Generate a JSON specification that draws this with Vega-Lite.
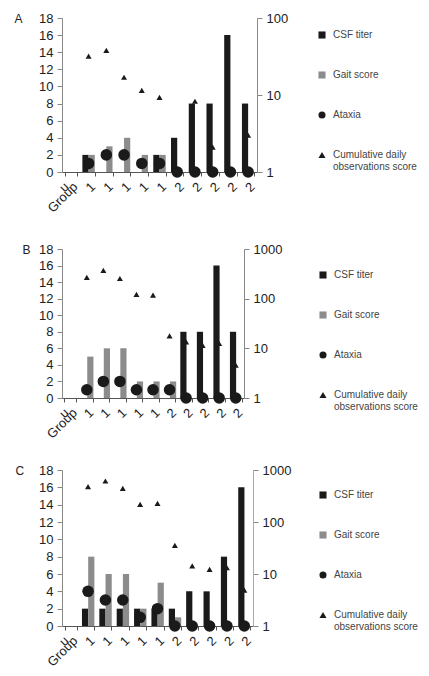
{
  "$schema": "https://vega.github.io/schema/vega-lite/v6.json",
  "padding": {"left": 14, "top": 12, "right": 5, "bottom": 5},
  "background": "white",
  "datasets": {
    "A": [
      {"subject": "1a", "series": "CSF titer", "value": 2},
      {"subject": "1b", "series": "CSF titer", "value": 0},
      {"subject": "1c", "series": "CSF titer", "value": 0},
      {"subject": "1d", "series": "CSF titer", "value": 0},
      {"subject": "1e", "series": "CSF titer", "value": 2},
      {"subject": "2a", "series": "CSF titer", "value": 4},
      {"subject": "2b", "series": "CSF titer", "value": 8},
      {"subject": "2c", "series": "CSF titer", "value": 8},
      {"subject": "2d", "series": "CSF titer", "value": 16},
      {"subject": "2e", "series": "CSF titer", "value": 8},
      {"subject": "1a", "series": "Gait score", "value": 2},
      {"subject": "1b", "series": "Gait score", "value": 3},
      {"subject": "1c", "series": "Gait score", "value": 4},
      {"subject": "1d", "series": "Gait score", "value": 2},
      {"subject": "1e", "series": "Gait score", "value": 2},
      {"subject": "2a", "series": "Gait score", "value": 0},
      {"subject": "2b", "series": "Gait score", "value": 0},
      {"subject": "2c", "series": "Gait score", "value": 0},
      {"subject": "2d", "series": "Gait score", "value": 0},
      {"subject": "2e", "series": "Gait score", "value": 0},
      {"subject": "1a", "series": "Ataxia", "value": 1},
      {"subject": "1b", "series": "Ataxia", "value": 2},
      {"subject": "1c", "series": "Ataxia", "value": 2},
      {"subject": "1d", "series": "Ataxia", "value": 1},
      {"subject": "1e", "series": "Ataxia", "value": 1},
      {"subject": "2a", "series": "Ataxia", "value": 0},
      {"subject": "2b", "series": "Ataxia", "value": 0},
      {"subject": "2c", "series": "Ataxia", "value": 0},
      {"subject": "2d", "series": "Ataxia", "value": 0},
      {"subject": "2e", "series": "Ataxia", "value": 0},
      {"subject": "1a", "series": "Cumulative daily observations score", "value": 32},
      {"subject": "1b", "series": "Cumulative daily observations score", "value": 38},
      {"subject": "1c", "series": "Cumulative daily observations score", "value": 17},
      {"subject": "1d", "series": "Cumulative daily observations score", "value": 11.5},
      {"subject": "1e", "series": "Cumulative daily observations score", "value": 9.3},
      {"subject": "2b", "series": "Cumulative daily observations score", "value": 8.3},
      {"subject": "2c", "series": "Cumulative daily observations score", "value": 2.1},
      {"subject": "2e", "series": "Cumulative daily observations score", "value": 3.0}
    ],
    "B": [
      {"subject": "1a", "series": "CSF titer", "value": 0},
      {"subject": "1b", "series": "CSF titer", "value": 0},
      {"subject": "1c", "series": "CSF titer", "value": 0},
      {"subject": "1d", "series": "CSF titer", "value": 0},
      {"subject": "1e", "series": "CSF titer", "value": 0},
      {"subject": "2a", "series": "CSF titer", "value": 0},
      {"subject": "2b", "series": "CSF titer", "value": 8},
      {"subject": "2c", "series": "CSF titer", "value": 8},
      {"subject": "2d", "series": "CSF titer", "value": 16},
      {"subject": "2e", "series": "CSF titer", "value": 8},
      {"subject": "1a", "series": "Gait score", "value": 5},
      {"subject": "1b", "series": "Gait score", "value": 6},
      {"subject": "1c", "series": "Gait score", "value": 6},
      {"subject": "1d", "series": "Gait score", "value": 2},
      {"subject": "1e", "series": "Gait score", "value": 2},
      {"subject": "2a", "series": "Gait score", "value": 2},
      {"subject": "2b", "series": "Gait score", "value": 0},
      {"subject": "2c", "series": "Gait score", "value": 0},
      {"subject": "2d", "series": "Gait score", "value": 0},
      {"subject": "2e", "series": "Gait score", "value": 0},
      {"subject": "1a", "series": "Ataxia", "value": 1},
      {"subject": "1b", "series": "Ataxia", "value": 2},
      {"subject": "1c", "series": "Ataxia", "value": 2},
      {"subject": "1d", "series": "Ataxia", "value": 1},
      {"subject": "1e", "series": "Ataxia", "value": 1},
      {"subject": "2a", "series": "Ataxia", "value": 1},
      {"subject": "2b", "series": "Ataxia", "value": 0},
      {"subject": "2c", "series": "Ataxia", "value": 0},
      {"subject": "2d", "series": "Ataxia", "value": 0},
      {"subject": "2e", "series": "Ataxia", "value": 0},
      {"subject": "1a", "series": "Cumulative daily observations score", "value": 269},
      {"subject": "1b", "series": "Cumulative daily observations score", "value": 372},
      {"subject": "1c", "series": "Cumulative daily observations score", "value": 255},
      {"subject": "1d", "series": "Cumulative daily observations score", "value": 122},
      {"subject": "1e", "series": "Cumulative daily observations score", "value": 118},
      {"subject": "2a", "series": "Cumulative daily observations score", "value": 17.8},
      {"subject": "2b", "series": "Cumulative daily observations score", "value": 13.5},
      {"subject": "2c", "series": "Cumulative daily observations score", "value": 11.5},
      {"subject": "2d", "series": "Cumulative daily observations score", "value": 12.5},
      {"subject": "2e", "series": "Cumulative daily observations score", "value": 4.6}
    ],
    "C": [
      {"subject": "1a", "series": "CSF titer", "value": 2},
      {"subject": "1b", "series": "CSF titer", "value": 2},
      {"subject": "1c", "series": "CSF titer", "value": 2},
      {"subject": "1d", "series": "CSF titer", "value": 2},
      {"subject": "1e", "series": "CSF titer", "value": 2},
      {"subject": "2a", "series": "CSF titer", "value": 2},
      {"subject": "2b", "series": "CSF titer", "value": 4},
      {"subject": "2c", "series": "CSF titer", "value": 4},
      {"subject": "2d", "series": "CSF titer", "value": 8},
      {"subject": "2e", "series": "CSF titer", "value": 16},
      {"subject": "1a", "series": "Gait score", "value": 8},
      {"subject": "1b", "series": "Gait score", "value": 6},
      {"subject": "1c", "series": "Gait score", "value": 6},
      {"subject": "1d", "series": "Gait score", "value": 2},
      {"subject": "1e", "series": "Gait score", "value": 5},
      {"subject": "2a", "series": "Gait score", "value": 1},
      {"subject": "2b", "series": "Gait score", "value": 0},
      {"subject": "2c", "series": "Gait score", "value": 0},
      {"subject": "2d", "series": "Gait score", "value": 0},
      {"subject": "2e", "series": "Gait score", "value": 0},
      {"subject": "1a", "series": "Ataxia", "value": 4},
      {"subject": "1b", "series": "Ataxia", "value": 3},
      {"subject": "1c", "series": "Ataxia", "value": 3},
      {"subject": "1d", "series": "Ataxia", "value": 1},
      {"subject": "1e", "series": "Ataxia", "value": 2},
      {"subject": "2a", "series": "Ataxia", "value": 0},
      {"subject": "2b", "series": "Ataxia", "value": 0},
      {"subject": "2c", "series": "Ataxia", "value": 0},
      {"subject": "2d", "series": "Ataxia", "value": 0},
      {"subject": "2e", "series": "Ataxia", "value": 0},
      {"subject": "1a", "series": "Cumulative daily observations score", "value": 479},
      {"subject": "1b", "series": "Cumulative daily observations score", "value": 615},
      {"subject": "1c", "series": "Cumulative daily observations score", "value": 445},
      {"subject": "1d", "series": "Cumulative daily observations score", "value": 218},
      {"subject": "1e", "series": "Cumulative daily observations score", "value": 229},
      {"subject": "2a", "series": "Cumulative daily observations score", "value": 35.6},
      {"subject": "2b", "series": "Cumulative daily observations score", "value": 14.3},
      {"subject": "2c", "series": "Cumulative daily observations score", "value": 12.3},
      {"subject": "2d", "series": "Cumulative daily observations score", "value": 13.2},
      {"subject": "2e", "series": "Cumulative daily observations score", "value": 4.9}
    ]
  },
  "vconcat": [
    {
      "width": 195, "height": 154,
      "data": {"name": "A"},
      "layer": [
        {
          "transform": [{"filter": "datum.series == 'Cumulative daily observations score'"}],
          "mark": {"type": "point", "shape": "triangle-up", "filled": true, "color": "#1a1a1a", "size": 36, "opacity": 1},
          "encoding": {
            "x": {"field": "subject", "type": "nominal", "scale": {"type": "band", "domain": ["G","1a","1b","1c","1d","1e","2a","2b","2c","2d","2e"], "paddingInner": 0.3, "paddingOuter": 0.15},
              "axis": {"title": null, "labelAngle": -45, "labelExpr": "datum.value == 'G' ? 'Group' : substring(datum.value, 0, 1)", "tickBand": "extent", "domainColor": "#555", "tickColor": "#555", "tickSize": 4}},
            "y": {"field": "value", "type": "quantitative", "scale": {"type": "log", "domain": [1, 100], "nice": false},
              "axis": {"orient": "right", "values": [1, 10, 100], "title": null, "format": "d"}}
          }
        },
        {
          "layer": [
            {
              "transform": [{"filter": "datum.series == 'CSF titer' || datum.series == 'Gait score'"}],
              "mark": {"type": "bar"},
              "encoding": {
                "x": {"field": "subject", "type": "nominal", "scale": {"type": "band", "domain": ["G","1a","1b","1c","1d","1e","2a","2b","2c","2d","2e"], "paddingInner": 0.3, "paddingOuter": 0.15}},
                "xOffset": {"field": "series", "type": "nominal", "scale": {"domain": ["CSF titer", "Gait score"]}},
                "y": {"field": "value", "type": "quantitative", "scale": {"domain": [0, 18], "nice": false},
                  "axis": {"orient": "left", "values": [0,2,4,6,8,10,12,14,16,18], "labelOverlap": false, "title": "A", "titleAngle": 0, "titleX": -48, "titleY": 0, "titleAlign": "left", "titleBaseline": "middle"}},
                "color": {"condition": {"test": "datum.series == 'CSF titer'", "value": "#1a1a1a"}, "value": "#8c8c8c"}
              }
            },
            {
              "transform": [{"filter": "datum.series == 'Ataxia'"}],
              "mark": {"type": "circle", "color": "#1a1a1a", "size": 133, "opacity": 1},
              "encoding": {
                "x": {"field": "subject", "type": "nominal", "scale": {"type": "band", "domain": ["G","1a","1b","1c","1d","1e","2a","2b","2c","2d","2e"], "paddingInner": 0.3, "paddingOuter": 0.15}},
                "y": {"field": "value", "type": "quantitative", "scale": {"domain": [0, 18], "nice": false},
                  "axis": {"orient": "left", "values": [0,2,4,6,8,10,12,14,16,18], "labelOverlap": false, "title": "A", "titleAngle": 0, "titleX": -48, "titleY": 0, "titleAlign": "left", "titleBaseline": "middle"}}
              }
            },
            {
              "mark": {"type": "point", "filled": true, "opacity": 0},
              "encoding": {
                "x": {"field": "subject", "type": "nominal", "scale": {"type": "band", "domain": ["G","1a","1b","1c","1d","1e","2a","2b","2c","2d","2e"], "paddingInner": 0.3, "paddingOuter": 0.15}},
                "y": {"datum": 0, "type": "quantitative", "scale": {"domain": [0, 18], "nice": false},
                  "axis": {"orient": "left", "values": [0,2,4,6,8,10,12,14,16,18], "labelOverlap": false, "title": "A", "titleAngle": 0, "titleX": -48, "titleY": 0, "titleAlign": "left", "titleBaseline": "middle"}},
                "color": {"field": "series", "type": "nominal",
                  "scale": {"domain": ["CSF titer", "Gait score", "Ataxia", "Cumulative daily observations score"], "range": ["#1a1a1a", "#8c8c8c", "#1a1a1a", "#1a1a1a"]},
                  "legend": {"orient": "none", "legendX": 255, "legendY": 12, "labelExpr": "datum.label == 'Cumulative daily observations score' ? ['Cumulative daily', 'observations score'] : datum.label"}},
                "shape": {"field": "series", "type": "nominal",
                  "scale": {"domain": ["CSF titer", "Gait score", "Ataxia", "Cumulative daily observations score"], "range": ["square", "square", "circle", "triangle-up"]},
                  "legend": {"orient": "none", "legendX": 255, "legendY": 12, "labelExpr": "datum.label == 'Cumulative daily observations score' ? ['Cumulative daily', 'observations score'] : datum.label"}}
              }
            }
          ]
        }
      ],
      "resolve": {"scale": {"y": "independent"}}
    },
    {
      "vconcat": [
        {
          "width": 182, "height": 149,
          "data": {"name": "B"},
          "layer": [
            {
              "transform": [{"filter": "datum.series == 'Cumulative daily observations score'"}],
              "mark": {"type": "point", "shape": "triangle-up", "filled": true, "color": "#1a1a1a", "size": 36, "opacity": 1},
              "encoding": {
                "x": {"field": "subject", "type": "nominal", "scale": {"type": "band", "domain": ["G","1a","1b","1c","1d","1e","2a","2b","2c","2d","2e"], "paddingInner": 0.3, "paddingOuter": 0.15},
                  "axis": {"title": null, "labelAngle": -45, "labelExpr": "datum.value == 'G' ? 'Group' : substring(datum.value, 0, 1)", "tickBand": "extent", "domainColor": "#555", "tickColor": "#555", "tickSize": 4}},
                "y": {"field": "value", "type": "quantitative", "scale": {"type": "log", "domain": [1, 1000], "nice": false},
                  "axis": {"orient": "right", "values": [1, 10, 100, 1000], "title": null, "format": "d"}}
              }
            },
            {
              "layer": [
                {
                  "transform": [{"filter": "datum.series == 'CSF titer' || datum.series == 'Gait score'"}],
                  "mark": {"type": "bar"},
                  "encoding": {
                    "x": {"field": "subject", "type": "nominal", "scale": {"type": "band", "domain": ["G","1a","1b","1c","1d","1e","2a","2b","2c","2d","2e"], "paddingInner": 0.3, "paddingOuter": 0.15}},
                    "xOffset": {"field": "series", "type": "nominal", "scale": {"domain": ["CSF titer", "Gait score"]}},
                    "y": {"field": "value", "type": "quantitative", "scale": {"domain": [0, 18], "nice": false},
                      "axis": {"orient": "left", "values": [0,2,4,6,8,10,12,14,16,18], "labelOverlap": false, "title": "B", "titleAngle": 0, "titleX": -40, "titleY": 0, "titleAlign": "left", "titleBaseline": "middle"}},
                    "color": {"condition": {"test": "datum.series == 'CSF titer'", "value": "#1a1a1a"}, "value": "#8c8c8c"}
                  }
                },
                {
                  "transform": [{"filter": "datum.series == 'Ataxia'"}],
                  "mark": {"type": "circle", "color": "#1a1a1a", "size": 133, "opacity": 1},
                  "encoding": {
                    "x": {"field": "subject", "type": "nominal", "scale": {"type": "band", "domain": ["G","1a","1b","1c","1d","1e","2a","2b","2c","2d","2e"], "paddingInner": 0.3, "paddingOuter": 0.15}},
                    "y": {"field": "value", "type": "quantitative", "scale": {"domain": [0, 18], "nice": false},
                      "axis": {"orient": "left", "values": [0,2,4,6,8,10,12,14,16,18], "labelOverlap": false, "title": "B", "titleAngle": 0, "titleX": -40, "titleY": 0, "titleAlign": "left", "titleBaseline": "middle"}}
                  }
                },
                {
                  "mark": {"type": "point", "filled": true, "opacity": 0},
                  "encoding": {
                    "x": {"field": "subject", "type": "nominal", "scale": {"type": "band", "domain": ["G","1a","1b","1c","1d","1e","2a","2b","2c","2d","2e"], "paddingInner": 0.3, "paddingOuter": 0.15}},
                    "y": {"datum": 0, "type": "quantitative", "scale": {"domain": [0, 18], "nice": false},
                      "axis": {"orient": "left", "values": [0,2,4,6,8,10,12,14,16,18], "labelOverlap": false, "title": "B", "titleAngle": 0, "titleX": -40, "titleY": 0, "titleAlign": "left", "titleBaseline": "middle"}},
                    "color": {"field": "series", "type": "nominal",
                      "scale": {"domain": ["CSF titer", "Gait score", "Ataxia", "Cumulative daily observations score"], "range": ["#1a1a1a", "#8c8c8c", "#1a1a1a", "#1a1a1a"]},
                      "legend": {"orient": "none", "legendX": 256, "legendY": 21, "labelExpr": "datum.label == 'Cumulative daily observations score' ? ['Cumulative daily', 'observations score'] : datum.label"}},
                    "shape": {"field": "series", "type": "nominal",
                      "scale": {"domain": ["CSF titer", "Gait score", "Ataxia", "Cumulative daily observations score"], "range": ["square", "square", "circle", "triangle-up"]},
                      "legend": {"orient": "none", "legendX": 256, "legendY": 21, "labelExpr": "datum.label == 'Cumulative daily observations score' ? ['Cumulative daily', 'observations score'] : datum.label"}}
                  }
                }
              ]
            }
          ],
          "resolve": {"scale": {"y": "independent"}}
        },
        {
          "width": 191, "height": 156,
          "data": {"name": "C"},
          "layer": [
            {
              "transform": [{"filter": "datum.series == 'Cumulative daily observations score'"}],
              "mark": {"type": "point", "shape": "triangle-up", "filled": true, "color": "#1a1a1a", "size": 36, "opacity": 1},
              "encoding": {
                "x": {"field": "subject", "type": "nominal", "scale": {"type": "band", "domain": ["G","1a","1b","1c","1d","1e","2a","2b","2c","2d","2e"], "paddingInner": 0.3, "paddingOuter": 0.15},
                  "axis": {"title": null, "labelAngle": -45, "labelExpr": "datum.value == 'G' ? 'Group' : substring(datum.value, 0, 1)", "tickBand": "extent", "domainColor": "#555", "tickColor": "#555", "tickSize": 4}},
                "y": {"field": "value", "type": "quantitative", "scale": {"type": "log", "domain": [1, 1000], "nice": false},
                  "axis": {"orient": "right", "values": [1, 10, 100, 1000], "title": null, "format": "d", "domainColor": "#aaa"}}
              }
            },
            {
              "layer": [
                {
                  "transform": [{"filter": "datum.series == 'CSF titer' || datum.series == 'Gait score'"}],
                  "mark": {"type": "bar"},
                  "encoding": {
                    "x": {"field": "subject", "type": "nominal", "scale": {"type": "band", "domain": ["G","1a","1b","1c","1d","1e","2a","2b","2c","2d","2e"], "paddingInner": 0.3, "paddingOuter": 0.15}},
                    "xOffset": {"field": "series", "type": "nominal", "scale": {"domain": ["CSF titer", "Gait score"]}},
                    "y": {"field": "value", "type": "quantitative", "scale": {"domain": [0, 18], "nice": false},
                      "axis": {"orient": "left", "values": [0,2,4,6,8,10,12,14,16,18], "labelOverlap": false, "title": "C", "titleAngle": 0, "titleX": -47, "titleY": 0, "titleAlign": "left", "titleBaseline": "middle"}},
                    "color": {"condition": {"test": "datum.series == 'CSF titer'", "value": "#1a1a1a"}, "value": "#8c8c8c"}
                  }
                },
                {
                  "transform": [{"filter": "datum.series == 'Ataxia'"}],
                  "mark": {"type": "circle", "color": "#1a1a1a", "size": 133, "opacity": 1},
                  "encoding": {
                    "x": {"field": "subject", "type": "nominal", "scale": {"type": "band", "domain": ["G","1a","1b","1c","1d","1e","2a","2b","2c","2d","2e"], "paddingInner": 0.3, "paddingOuter": 0.15}},
                    "y": {"field": "value", "type": "quantitative", "scale": {"domain": [0, 18], "nice": false},
                      "axis": {"orient": "left", "values": [0,2,4,6,8,10,12,14,16,18], "labelOverlap": false, "title": "C", "titleAngle": 0, "titleX": -47, "titleY": 0, "titleAlign": "left", "titleBaseline": "middle"}}
                  }
                },
                {
                  "mark": {"type": "point", "filled": true, "opacity": 0},
                  "encoding": {
                    "x": {"field": "subject", "type": "nominal", "scale": {"type": "band", "domain": ["G","1a","1b","1c","1d","1e","2a","2b","2c","2d","2e"], "paddingInner": 0.3, "paddingOuter": 0.15}},
                    "y": {"datum": 0, "type": "quantitative", "scale": {"domain": [0, 18], "nice": false},
                      "axis": {"orient": "left", "values": [0,2,4,6,8,10,12,14,16,18], "labelOverlap": false, "title": "C", "titleAngle": 0, "titleX": -47, "titleY": 0, "titleAlign": "left", "titleBaseline": "middle"}},
                    "color": {"field": "series", "type": "nominal",
                      "scale": {"domain": ["CSF titer", "Gait score", "Ataxia", "Cumulative daily observations score"], "range": ["#1a1a1a", "#8c8c8c", "#1a1a1a", "#1a1a1a"]},
                      "legend": {"orient": "none", "legendX": 256, "legendY": 20, "labelExpr": "datum.label == 'Cumulative daily observations score' ? ['Cumulative daily', 'observations score'] : datum.label"}},
                    "shape": {"field": "series", "type": "nominal",
                      "scale": {"domain": ["CSF titer", "Gait score", "Ataxia", "Cumulative daily observations score"], "range": ["square", "square", "circle", "triangle-up"]},
                      "legend": {"orient": "none", "legendX": 256, "legendY": 20, "labelExpr": "datum.label == 'Cumulative daily observations score' ? ['Cumulative daily', 'observations score'] : datum.label"}}
                  }
                }
              ]
            }
          ],
          "resolve": {"scale": {"y": "independent"}}
        }
      ],
      "spacing": 23,
      "resolve": {"scale": {"color": "independent", "shape": "independent"}, "legend": {"color": "independent", "shape": "independent"}}
    }
  ],
  "spacing": 28,
  "resolve": {"scale": {"color": "independent", "shape": "independent"}, "legend": {"color": "independent", "shape": "independent"}},
  "config": {
    "font": "Liberation Sans",
    "view": {"stroke": null},
    "axis": {"labelFont": "Liberation Sans", "labelFontSize": 13, "labelColor": "#222", "domainColor": "#888", "tickColor": "#888", "grid": false, "tickSize": 5, "labelPadding": 4, "titleFont": "Liberation Sans", "titleFontSize": 12, "titleFontWeight": "normal", "titleColor": "#222"},
    "legend": {"title": null, "padding": 0, "rowPadding": 30, "symbolSize": 50, "symbolStrokeWidth": 0, "symbolOpacity": 1, "labelFont": "Liberation Sans", "labelFontSize": 10, "labelColor": "#444", "labelOffset": 6, "labelLimit": 200}
  }
}
